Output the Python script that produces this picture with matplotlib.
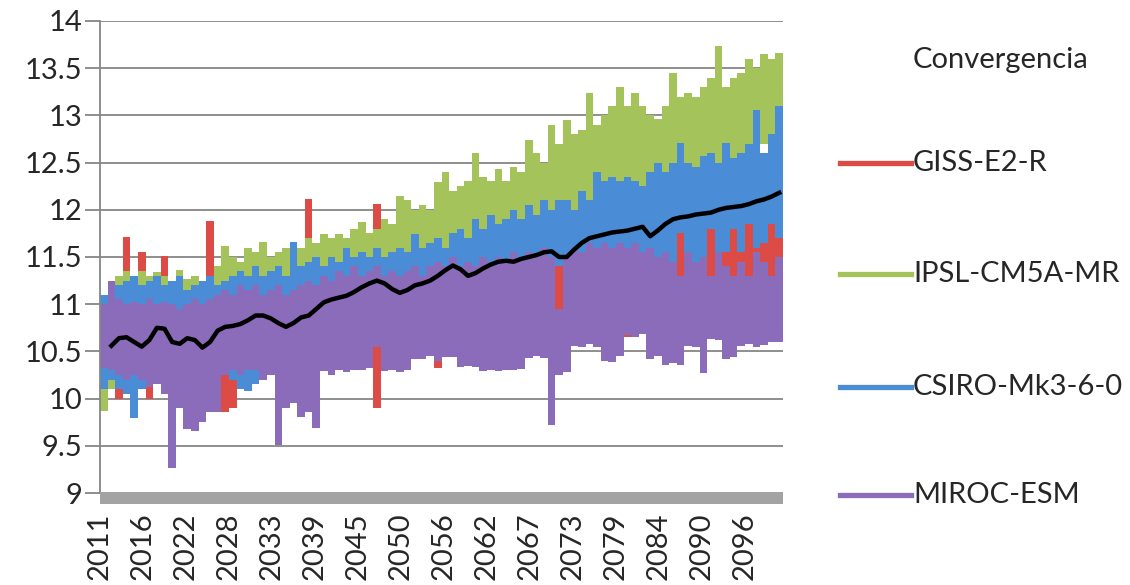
import numpy as np
import matplotlib
matplotlib.use("Agg")
import matplotlib.pyplot as plt
from matplotlib.lines import Line2D
from matplotlib.patches import Rectangle

# ---------------- data (annual min / max of monthly series, 2011-2100) -------------
years = list(range(2011, 2101))

giss_min = [10.20, 10.10, 10.00, 10.20, 10.30, 10.20, 10.00, 10.30, 10.25, 10.30,
            10.25, 10.30, 10.30, 10.30, 10.35, 10.30, 9.86, 9.90, 10.30, 10.35,
            10.35, 10.40, 10.35, 10.40, 10.40, 10.45, 10.40, 10.45, 10.40, 10.45,
            10.45, 10.50, 10.45, 10.50, 10.45, 10.50, 9.90, 10.50, 10.45, 10.50,
            10.50, 10.55, 10.50, 10.55, 10.32, 10.55, 10.50, 10.55, 10.50, 10.55,
            10.55, 10.60, 10.55, 10.60, 10.55, 10.60, 10.55, 10.60, 10.55, 10.60,
            10.60, 10.65, 10.60, 10.65, 10.60, 10.65, 10.60, 10.65, 10.60, 10.65,
            10.65, 10.70, 10.65, 10.70, 10.65, 10.70, 10.65, 10.70, 10.65, 10.70,
            10.70, 10.75, 10.70, 10.75, 10.70, 10.75, 10.70, 10.75, 10.70, 10.72]
giss_max = [11.00, 11.10, 11.20, 11.71, 11.20, 11.55, 11.20, 11.10, 11.51, 11.20,
            11.36, 11.10, 11.20, 11.10, 11.88, 11.20, 11.46, 11.30, 11.20, 11.30,
            11.51, 11.35, 11.30, 11.40, 11.35, 11.40, 11.45, 12.11, 11.50, 11.45,
            11.50, 11.55, 11.50, 11.60, 11.87, 11.60, 12.06, 11.60, 11.65, 11.60,
            11.65, 11.70, 11.65, 11.70, 11.75, 11.70, 11.75, 11.80, 11.75, 11.80,
            11.80, 11.85, 11.80, 11.85, 11.80, 11.85, 11.80, 11.85, 11.80, 11.85,
            11.60, 11.85, 11.80, 11.85, 11.80, 11.85, 11.80, 11.85, 11.80, 11.85,
            11.80, 11.85, 11.80, 11.85, 11.80, 11.85, 11.85, 11.80, 11.85, 11.80,
            11.90, 11.85, 11.80, 11.85, 11.80, 11.90, 11.85, 11.80, 11.90, 11.85]

ipsl_min = [9.87, 10.10, 10.15, 10.20, 10.20, 10.25, 10.20, 10.30, 10.25, 10.30,
            10.20, 10.30, 10.35, 10.30, 10.35, 10.40, 10.30, 10.20, 10.10, 10.40,
            10.45, 10.50, 10.50, 10.55, 10.60, 10.60, 10.65, 10.70, 10.70, 10.75,
            10.80, 10.80, 10.85, 10.90, 10.90, 10.95, 11.00, 11.00, 11.05, 11.10,
            11.10, 11.15, 11.20, 11.20, 11.25, 11.30, 11.30, 11.35, 11.40, 11.40,
            11.45, 11.50, 11.50, 11.55, 11.60, 11.60, 11.65, 11.70, 11.70, 11.75,
            11.80, 11.80, 11.85, 11.90, 11.90, 11.95, 12.00, 12.00, 12.05, 12.10,
            12.10, 12.15, 12.20, 12.20, 12.25, 12.30, 12.30, 12.35, 12.40, 12.40,
            12.45, 12.50, 12.50, 12.55, 12.60, 12.60, 12.65, 12.70, 12.70, 12.75]
ipsl_max = [11.10, 11.20, 11.30, 11.35, 11.30, 11.35, 11.30, 11.34, 11.30, 11.25,
            11.36, 11.27, 11.30, 11.20, 11.30, 11.40, 11.62, 11.50, 11.45, 11.60,
            11.55, 11.66, 11.50, 11.55, 11.60, 11.66, 11.60, 11.70, 11.65, 11.74,
            11.70, 11.74, 11.70, 11.80, 11.87, 11.75, 11.80, 11.90, 11.85, 12.15,
            12.10, 12.00, 12.05, 12.00, 12.29, 12.40, 12.20, 12.25, 12.30, 12.60,
            12.35, 12.30, 12.43, 12.30, 12.45, 12.40, 12.74, 12.60, 12.50, 12.90,
            12.70, 12.95, 12.80, 12.85, 13.24, 12.90, 13.00, 13.10, 13.30, 13.10,
            13.24, 13.10, 13.00, 12.96, 13.10, 13.45, 13.20, 13.24, 13.20, 13.30,
            13.40, 13.73, 13.30, 13.40, 13.45, 13.60, 13.50, 13.65, 13.60, 13.66]

csiro_min = [10.10, 10.20, 10.10, 10.05, 9.79, 10.10, 10.20, 10.15, 10.20, 10.25,
             10.20, 10.30, 10.25, 10.30, 10.30, 10.25, 10.30, 10.20, 10.10, 10.08,
             10.15, 10.30, 10.35, 10.40, 10.40, 10.45, 10.50, 10.45, 10.50, 10.55,
             10.50, 10.60, 10.55, 10.60, 10.65, 10.50, 10.60, 10.70, 10.65, 10.70,
             10.75, 10.70, 10.80, 10.75, 10.80, 10.85, 10.80, 10.90, 10.85, 10.90,
             10.95, 10.90, 11.00, 10.95, 11.00, 11.05, 11.00, 11.10, 11.05, 11.10,
             11.40, 11.10, 11.20, 11.15, 11.20, 11.25, 11.20, 11.30, 11.25, 11.30,
             11.35, 11.30, 11.40, 11.35, 11.40, 11.45, 11.75, 11.50, 11.45, 11.50,
             11.80, 11.50, 11.55, 11.80, 11.55, 11.85, 11.60, 11.65, 11.85, 11.70]
csiro_max = [11.10, 11.15, 11.20, 11.25, 11.30, 11.20, 11.25, 11.30, 11.20, 11.25,
             11.30, 11.15, 11.20, 11.25, 11.30, 11.20, 11.25, 11.30, 11.35, 11.30,
             11.40, 11.30, 11.35, 11.40, 11.30, 11.66, 11.40, 11.45, 11.50, 11.40,
             11.50, 11.45, 11.60, 11.50, 11.55, 11.50, 11.60, 11.50, 11.55, 11.60,
             11.55, 11.74, 11.60, 11.65, 11.70, 11.60, 11.75, 11.80, 11.70, 11.90,
             11.80, 11.95, 11.85, 11.90, 12.00, 11.90, 12.05, 11.95, 12.10, 12.00,
             12.10, 12.10, 12.00, 12.20, 12.10, 12.40, 12.30, 12.35, 12.30, 12.35,
             12.30, 12.25, 12.40, 12.50, 12.40, 12.50, 12.71, 12.50, 12.45, 12.57,
             12.60, 12.50, 12.71, 12.55, 12.60, 12.70, 13.06, 12.60, 12.80, 13.10]

miroc_min = [10.32, 10.30, 10.25, 10.20, 10.25, 10.20, 10.12, 10.15, 10.05, 9.26,
             9.90, 9.68, 9.66, 9.75, 9.86, 9.86, 10.25, 10.30, 10.25, 10.30,
             10.30, 10.20, 10.25, 9.51, 9.90, 9.95, 9.80, 9.86, 9.69, 10.29,
             10.25, 10.30, 10.28, 10.30, 10.30, 10.32, 10.55, 10.29, 10.30, 10.28,
             10.30, 10.42, 10.42, 10.45, 10.40, 10.44, 10.44, 10.34, 10.35, 10.34,
             10.29, 10.30, 10.29, 10.30, 10.30, 10.31, 10.43, 10.45, 10.43, 9.72,
             10.25, 10.28, 10.56, 10.55, 10.58, 10.55, 10.40, 10.39, 10.45, 10.67,
             10.65, 10.68, 10.42, 10.45, 10.36, 10.38, 10.36, 10.56, 10.55, 10.27,
             10.63, 10.62, 10.42, 10.44, 10.56, 10.58, 10.55, 10.57, 10.60, 10.60]
miroc_max = [11.00, 11.25, 11.05, 11.00, 11.02, 11.00, 11.05, 11.00, 11.02, 11.00,
             10.95, 11.00, 11.05, 11.00, 11.05, 11.10, 11.15, 11.10, 11.20, 11.15,
             11.20, 11.10, 11.15, 11.20, 11.10, 11.15, 11.20, 11.25, 11.20, 11.30,
             11.25, 11.35, 11.30, 11.40, 11.30, 11.35, 11.40, 11.30, 11.35, 11.30,
             11.35, 11.40, 11.30, 11.40, 11.45, 11.40, 11.50, 11.40, 11.45, 11.40,
             11.50, 11.45, 11.50, 11.45, 11.55, 11.50, 11.55, 11.50, 11.60, 11.50,
             10.95, 11.50, 11.60, 11.55, 11.65, 11.60, 11.65, 11.60, 11.65, 11.60,
             11.65, 11.55, 11.60, 11.50, 11.55, 11.45, 11.30, 11.55, 11.45, 11.50,
             11.30, 11.55, 11.40, 11.30, 11.45, 11.30, 11.55, 11.45, 11.30, 11.50]

nan = float("nan")
convergencia = [nan, 10.56, 10.64, 10.65, 10.60, 10.55, 10.62, 10.75, 10.74, 10.60,
                10.58, 10.64, 10.62, 10.54, 10.60, 10.72, 10.76, 10.77, 10.79, 10.83,
                10.88, 10.88, 10.85, 10.80, 10.76, 10.80, 10.86, 10.88, 10.95, 11.02,
                11.05, 11.07, 11.09, 11.13, 11.18, 11.22, 11.25, 11.22, 11.16, 11.12,
                11.15, 11.20, 11.22, 11.25, 11.30, 11.36, 11.41, 11.37, 11.30, 11.33,
                11.38, 11.42, 11.45, 11.46, 11.45, 11.48, 11.50, 11.52, 11.55, 11.56,
                11.50, 11.50, 11.58, 11.65, 11.70, 11.72, 11.74, 11.76, 11.77, 11.78,
                11.80, 11.82, 11.72, 11.78, 11.85, 11.90, 11.92, 11.93, 11.95, 11.96,
                11.97, 12.00, 12.02, 12.03, 12.04, 12.06, 12.09, 12.11, 12.14, 12.18]

tick_labels = ["2011", "2016", "2022", "2028", "2033", "2039", "2045", "2050",
               "2056", "2062", "2067", "2073", "2079", "2084", "2090", "2096"]
months_per_label = 68

series_names = ["GISS-E2-R", "IPSL-CM5A-MR", "CSIRO-Mk3-6-0", "MIROC-ESM"]
colors = ["#DC4B46", "#A4C35A", "#4A8CD6", "#8A6CBB"]

# ---------------- figure ----------------
plt.rcParams["font.family"] = ["Lato", "DejaVu Sans"]
txt_color = "#262626"
grid_color = "#868686"

fig = plt.figure(figsize=(11.3, 5.85), dpi=100)
ax = fig.add_axes([100 / 1130, 1 - 493 / 585, 683 / 1130, 472 / 585])

n = len(years)
edges = np.arange(n + 1) * 12.0
centers = np.arange(n) * 12.0 + 6.0

data = [(giss_min, giss_max), (ipsl_min, ipsl_max),
        (csiro_min, csiro_max), (miroc_min, miroc_max)]
for (lo, hi), c in zip(data, colors):
    ax.stairs(hi, edges, baseline=lo, fill=True, color=c, lw=0, zorder=2)

ax.plot(centers, convergencia, color="black", lw=3.2, zorder=4,
        solid_joinstyle="round")

ax.set_xlim(0, n * 12)
ax.set_ylim(9, 14)
ax.set_yticks(np.arange(9, 14.01, 0.5))
ax.set_yticklabels(["9", "9.5", "10", "10.5", "11", "11.5", "12", "12.5",
                    "13", "13.5", "14"])
ax.yaxis.grid(True, color=grid_color, lw=1.3, zorder=1)
ax.set_axisbelow(True)

ax.set_xticks([i * months_per_label for i in range(len(tick_labels))])
ax.set_xticklabels(tick_labels, rotation=90)

for s in ["top", "right", "bottom"]:
    ax.spines[s].set_visible(False)
ax.spines["left"].set_color(grid_color)
ax.spines["left"].set_linewidth(1.3)

ax.tick_params(axis="y", length=11, width=1.3, color=grid_color,
               labelsize=21, labelcolor=txt_color, pad=2)
ax.tick_params(axis="x", length=0, labelsize=21, labelcolor=txt_color, pad=14)

# thick grey category axis bar
ax.add_patch(Rectangle((0, -0.024), 1, 0.026, transform=ax.transAxes,
                       clip_on=False, color="#A3A3A3", lw=0, zorder=5))

# ---------------- legend (manual) ----------------
fig.text(913 / 1130, 1 - 60 / 585, "Convergencia", fontsize=21,
         color=txt_color, va="center", ha="left")
leg_y = [163, 274, 387, 495]
for name, c, yy in zip(series_names, colors, leg_y):
    yf = 1 - yy / 585
    fig.add_artist(Line2D([840 / 1130, 911 / 1130], [yf, yf],
                          transform=fig.transFigure, color=c, lw=3.8))
    fig.text(913 / 1130, yf, name, fontsize=21, color=txt_color,
             va="center", ha="left")

fig.savefig("out.png", dpi=100)
